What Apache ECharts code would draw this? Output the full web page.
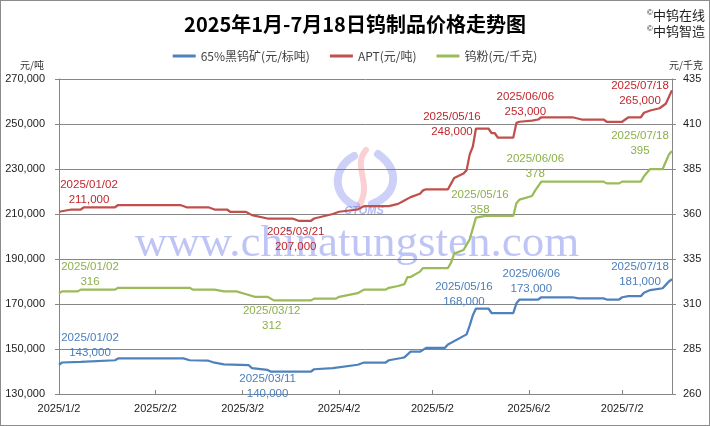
<!DOCTYPE html>
<html><head><meta charset="utf-8">
<script src="https://cdn.jsdelivr.net/npm/echarts@6/dist/echarts.min.js"></script>
<style>
html,body{margin:0;padding:0;background:#fff}
#wrap{position:relative;width:710px;height:426px}
#c{width:710px;height:426px}
#frame{position:absolute;left:0;top:0;width:710px;height:426px;box-sizing:border-box;border:1px solid #8c8c8c;pointer-events:none}
</style>
</head><body>
<div id="wrap"><div id="c"></div><div id="frame"></div></div>
<script>
const titleText = '2025年1月-7月18日钨制品价格走势图';
const seriesNames = ['65%黑钨矿(元/标吨)', 'APT(元/吨)', '钨粉(元/千克)'];
const copyrightLines = ['中钨在线', '中钨智造'];
const leftUnit = '元/吨';
const rightUnit = '元/千克';
const watermarkText = 'www.chinatungsten.com';
const xTickLabels = ['2025/1/2', '2025/2/2', '2025/3/2', '2025/4/2', '2025/5/2', '2025/6/2', '2025/7/2'];
const xRange = ['2025-01-02', '2025-07-18'];
const leftAxisRange = [130000, 270000, 20000];
const rightAxisRange = [260, 435, 25];

const oreData = [
  ['2025-01-02',143000],['2025-01-03',144000],['2025-01-09',144300],['2025-01-20',145000],['2025-01-21',145800],
  ['2025-02-11',145800],['2025-02-13',145000],['2025-02-19',144800],['2025-02-21',143900],['2025-02-24',143200],
  ['2025-03-04',142800],['2025-03-05',141500],['2025-03-10',140700],['2025-03-11',140000],['2025-03-24',140000],
  ['2025-03-25',141000],['2025-03-31',141500],['2025-04-08',143000],['2025-04-10',144000],['2025-04-17',144000],
  ['2025-04-18',145000],['2025-04-22',146000],['2025-04-23',146300],['2025-04-25',148800],['2025-04-28',148800],
  ['2025-04-30',150500],['2025-05-06',150500],['2025-05-07',152000],['2025-05-13',156500],['2025-05-14',160500],
  ['2025-05-15',165000],['2025-05-16',168000],['2025-05-20',168000],['2025-05-21',166000],['2025-05-28',166000],
  ['2025-05-29',170300],['2025-05-30',172000],['2025-06-05',172000],['2025-06-06',173000],['2025-06-16',173000],
  ['2025-06-18',172500],['2025-06-26',172500],['2025-06-27',172000],['2025-07-01',172000],['2025-07-02',173000],
  ['2025-07-04',173500],['2025-07-08',173500],['2025-07-09',175000],['2025-07-11',176200],['2025-07-15',177000],
  ['2025-07-16',178500],['2025-07-17',180000],['2025-07-18',181000]
];
const aptData = [
  ['2025-01-02',211000],['2025-01-06',212000],['2025-01-09',212000],['2025-01-10',213000],['2025-01-20',213000],
  ['2025-01-21',214000],['2025-02-10',214000],['2025-02-12',213000],['2025-02-19',213000],['2025-02-21',212000],
  ['2025-02-25',212000],['2025-02-26',211000],['2025-03-03',211000],['2025-03-05',209500],['2025-03-10',208000],
  ['2025-03-18',208000],['2025-03-20',207000],['2025-03-21',207000],['2025-03-24',207000],['2025-03-25',208000],
  ['2025-03-28',209000],['2025-03-31',210000],['2025-04-02',211000],['2025-04-08',212000],['2025-04-10',213500],
  ['2025-04-18',213500],['2025-04-21',214500],['2025-04-23',216000],['2025-04-25',217500],['2025-04-28',219000],
  ['2025-04-29',220500],['2025-04-30',221000],['2025-05-07',221000],['2025-05-08',223500],['2025-05-09',226000],
  ['2025-05-12',228000],['2025-05-13',229500],['2025-05-14',236500],['2025-05-15',240000],['2025-05-16',248000],
  ['2025-05-20',248000],['2025-05-21',246000],['2025-05-22',246000],['2025-05-23',244000],['2025-05-28',244000],
  ['2025-05-29',250500],['2025-05-30',251000],['2025-06-03',251500],['2025-06-05',252000],['2025-06-06',253000],
  ['2025-06-16',253000],['2025-06-19',252000],['2025-06-26',252000],['2025-06-27',251000],['2025-07-02',251000],
  ['2025-07-03',252000],['2025-07-04',253000],['2025-07-08',253000],['2025-07-09',255000],['2025-07-11',256000],
  ['2025-07-14',257000],['2025-07-16',259000],['2025-07-17',262000],['2025-07-18',265000]
];
const powderData = [
  ['2025-01-02',316],['2025-01-03',317],['2025-01-08',317],['2025-01-09',318],['2025-01-20',318],
  ['2025-01-21',319],['2025-02-13',319],['2025-02-14',318],['2025-02-21',318],['2025-02-24',317],
  ['2025-02-28',317],['2025-03-04',315],['2025-03-06',314],['2025-03-10',314],['2025-03-12',312],
  ['2025-03-24',312],['2025-03-25',313],['2025-04-01',313],['2025-04-02',314],['2025-04-08',316],
  ['2025-04-10',318],['2025-04-17',318],['2025-04-18',319],['2025-04-21',320],['2025-04-23',321],
  ['2025-04-24',325],['2025-04-25',325],['2025-04-28',328],['2025-04-29',330],['2025-05-07',330],
  ['2025-05-08',333],['2025-05-09',338],['2025-05-12',340],['2025-05-13',343],['2025-05-14',346],
  ['2025-05-15',352],['2025-05-16',358],['2025-05-19',359],['2025-05-28',359],['2025-05-29',366],
  ['2025-05-30',368],['2025-06-03',370],['2025-06-04',373],['2025-06-06',378],['2025-06-26',378],
  ['2025-06-27',377],['2025-07-01',377],['2025-07-02',378],['2025-07-08',378],['2025-07-09',381],
  ['2025-07-10',383],['2025-07-11',385],['2025-07-15',385],['2025-07-16',389],['2025-07-17',393],
  ['2025-07-18',395]
];
const oreNotes = ['2025-01-02', '2025-03-11', '2025-05-16', '2025-06-06', '2025-07-18'];
const aptNotes = ['2025-01-02', '2025-03-21', '2025-05-16', '2025-06-06', '2025-07-18'];
const powderNotes = ['2025-01-02', '2025-03-12', '2025-05-16', '2025-06-06', '2025-07-18'];

// ---- layout / style (not data) ----
const noteOffsets = {
  ore:    [[31,-19],[-3,15],[-12,-14],[-10,-16],[-32,-5]],
  apt:    [[30,-19],[-6,19],[-24,-4],[-16,-13],[-32,3]],
  powder: [[31,-19],[-2,18],[4,-15],[-6,-15],[-32,-8]]
};
const lineColors = ['#4F81BD', '#C0504D', '#9BBB59'];
const noteColors = ['#4A7EBB', '#C0272D', '#8DB04A'];
const numFont = '"Liberation Sans", "Noto Sans CJK SC", sans-serif';
const cjkFont = '"Noto Sans CJK SC", "Liberation Sans", sans-serif';

function ts(s) {
  const p = s.split(/[-\/]/).map(Number);
  return new Date(p[0], p[1] - 1, p[2]).getTime();
}
function fmtDate(v) {
  const d = new Date(v);
  return d.getFullYear() + '/' + (d.getMonth() + 1) + '/' + d.getDate();
}
function toSeries(arr) { return arr.map(r => [ts(r[0]), r[1]]); }
function fmtNum(v) { return v.toLocaleString('en-US'); }
function makeNotes(data, notes, offs, color) {
  return {
    symbol: 'circle', symbolSize: 0, silent: true,
    label: { show: true, position: 'inside', color: color, fontSize: 11.5, lineHeight: 15, fontFamily: numFont },
    data: notes.map((d, i) => {
      const row = data.find(r => r[0] === d);
      return {
        coord: [ts(d), row[1]],
        label: { offset: offs[i], formatter: d.replace(/-/g, '/') + '\n' + fmtNum(row[1]) }
      };
    })
  };
}
function swoosh(x1, y1, c1x, c1y, c2x, c2y, x2, y2, color, w) {
  return { type: 'bezierCurve', z: 1, silent: true,
    shape: { x1: x1, y1: y1, cpx1: c1x, cpy1: c1y, cpx2: c2x, cpy2: c2y, x2: x2, y2: y2 },
    style: { fill: null, stroke: color, lineWidth: w, lineCap: 'round' } };
}

const tickTs = xTickLabels.map(ts);
const chart = echarts.init(document.getElementById('c'), null, { renderer: 'canvas' });
chart.setOption({
  animation: false,
  backgroundColor: '#fff',
  title: {
    text: titleText, left: 'center', top: 9,
    textStyle: { fontFamily: cjkFont, fontWeight: 'bold', fontSize: 20, color: '#000' }
  },
  legend: {
    top: 45, left: 'center', itemWidth: 23, itemHeight: 3, itemGap: 20, icon: 'rect',
    textStyle: { fontFamily: cjkFont, fontSize: 12, color: '#404040' },
    data: seriesNames
  },
  grid: { left: 59, right: 38, top: 79, bottom: 32, containLabel: false },
  xAxis: {
    type: 'value', min: ts(xRange[0]), max: ts(xRange[1]),
    axisLine: { lineStyle: { color: '#868686', width: 1 } },
    axisTick: { show: true, inside: true, length: 4, customValues: tickTs, lineStyle: { color: '#868686' } },
    axisLabel: { customValues: tickTs, formatter: v => fmtDate(v), color: '#222', fontSize: 11, fontFamily: numFont, margin: 9, hideOverlap: false },
    splitLine: { show: false }
  },
  yAxis: [
    {
      type: 'value', min: leftAxisRange[0], max: leftAxisRange[1], interval: leftAxisRange[2],
      axisLine: { show: true, lineStyle: { color: '#868686' } },
      axisTick: { show: true, length: 4, lineStyle: { color: '#868686' } },
      axisLabel: { formatter: v => fmtNum(v), color: '#222', fontSize: 11, fontFamily: numFont, margin: 14 },
      splitLine: { show: true, lineStyle: { color: '#868686', width: 1 } }
    },
    {
      type: 'value', position: 'right', min: rightAxisRange[0], max: rightAxisRange[1], interval: rightAxisRange[2],
      axisLine: { show: true, lineStyle: { color: '#868686' } },
      axisTick: { show: true, length: 4, lineStyle: { color: '#868686' } },
      axisLabel: { color: '#222', fontSize: 11, fontFamily: numFont, margin: 11 },
      splitLine: { show: false }
    }
  ],
  graphic: [
    { type: 'text', left: 20, top: 60, style: { text: leftUnit, font: '10px ' + cjkFont, fill: '#333' } },
    { type: 'text', left: 669, top: 60, style: { text: rightUnit, font: '10px ' + cjkFont, fill: '#333' } },
    { type: 'text', right: 5, top: 9, style: {
        text: '{c|©}{t|' + copyrightLines[0] + '}', rich: { c: { fontSize: 8, fontFamily: numFont, fill: '#222', verticalAlign: 'top' }, t: { fontSize: 13, fontFamily: cjkFont, fill: '#222' } } } },
    { type: 'text', right: 5, top: 25, style: {
        text: '{c|©}{t|' + copyrightLines[1] + '}', rich: { c: { fontSize: 8, fontFamily: numFont, fill: '#222', verticalAlign: 'top' }, t: { fontSize: 13, fontFamily: cjkFont, fill: '#222' } } } },
    { type: 'text', x: 357, y: 244, z: 1, silent: true, style: {
        text: watermarkText, font: '45px "Liberation Serif", "DejaVu Serif", serif',
        fill: 'rgba(85,100,228,0.38)', align: 'center', verticalAlign: 'middle' } },
    swoosh(354, 156, 332, 168, 332, 196, 356, 206, 'rgba(100,112,230,0.32)', 8),
    swoosh(366, 150, 352, 166, 372, 182, 360, 204, 'rgba(238,110,120,0.32)', 6),
    swoosh(378, 154, 400, 170, 398, 194, 372, 204, 'rgba(100,112,230,0.32)', 8),
    { type: 'text', x: 364, y: 211, z: 1, silent: true, style: {
        text: 'CTOMS', font: 'italic bold 11px "Liberation Sans", sans-serif',
        fill: 'rgba(100,112,230,0.5)', align: 'center', verticalAlign: 'middle' } }
  ],
  series: [
    { name: seriesNames[0], type: 'line', yAxisIndex: 0, data: toSeries(oreData), showSymbol: false, z: 3,
      lineStyle: { color: lineColors[0], width: 2.25 }, itemStyle: { color: lineColors[0] },
      markPoint: makeNotes(oreData, oreNotes, noteOffsets.ore, noteColors[0]) },
    { name: seriesNames[1], type: 'line', yAxisIndex: 0, data: toSeries(aptData), showSymbol: false, z: 3,
      lineStyle: { color: lineColors[1], width: 2.25 }, itemStyle: { color: lineColors[1] },
      markPoint: makeNotes(aptData, aptNotes, noteOffsets.apt, noteColors[1]) },
    { name: seriesNames[2], type: 'line', yAxisIndex: 1, data: toSeries(powderData), showSymbol: false, z: 3,
      lineStyle: { color: lineColors[2], width: 2.25 }, itemStyle: { color: lineColors[2] },
      markPoint: makeNotes(powderData, powderNotes, noteOffsets.powder, noteColors[2]) }
  ]
});
</script>
</body></html>
